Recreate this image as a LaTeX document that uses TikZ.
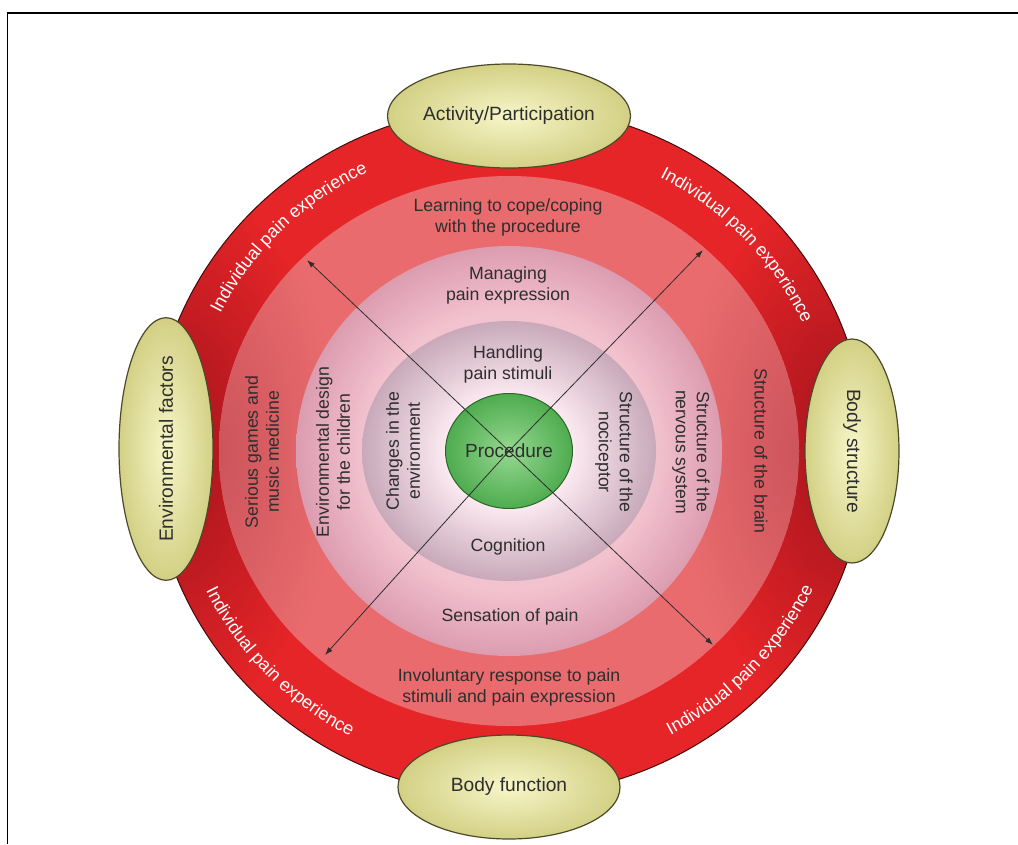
\documentclass[tikz,border=0pt]{standalone}
\usepackage{fontspec}
\setmainfont{Liberation Sans}
\usepackage{xcolor}
\usetikzlibrary{shapes.geometric, arrows.meta, decorations.text, calc}

\definecolor{ringbright}{HTML}{E62528}
\definecolor{ringdark}{HTML}{A0131C}
\definecolor{ringedge}{HTML}{3E0C0C}
\definecolor{midbright}{HTML}{E96B6D}
\definecolor{middark}{HTML}{CC545B}
\definecolor{pinkinner}{HTML}{F2C2CF}
\definecolor{pinkouter}{HTML}{DC9CB0}
\definecolor{coreinner}{HTML}{FBE9F0}
\definecolor{coreouter}{HTML}{C8A9B9}
\definecolor{greeninner}{HTML}{96D891}
\definecolor{greenouter}{HTML}{4FAC4F}
\definecolor{greenedge}{HTML}{2D662D}
\definecolor{pilllight}{HTML}{F7F6C8}
\definecolor{pilldark}{HTML}{D3D085}
\definecolor{pilledge}{HTML}{4A4A2A}
\definecolor{labeltext}{HTML}{2E2E2E}

\pgfdeclareradialshading{pinkring}{\pgfpoint{0bp}{0bp}}{color(0bp)=(pinkinner); color(17bp)=(pinkinner); color(25bp)=(pinkouter); color(50bp)=(pinkouter)}
\pgfdeclareradialshading{corering}{\pgfpoint{0bp}{0bp}}{color(0bp)=(coreinner); color(11bp)=(coreinner); color(25bp)=(coreouter); color(50bp)=(coreouter)}

\begin{document}
\begin{tikzpicture}[x=1pt, y=1pt,
        pill/.style={ellipse, draw=pilledge, line width=1.2pt, inner color=pilllight, outer color=pilldark,
            inner sep=0pt, text=labeltext, font=\fontsize{19.2}{22}\selectfont},
        ringlabel/.style={inner sep=0pt, align=center, text=labeltext, font=\fontsize{17.7}{21}\selectfont},
        pointer/.style={draw=labeltext, line width=0.8pt, -{Latex[length=8pt, width=5.5pt]}},
        painarc/.style={decorate, decoration={text along path, text align=center, text color=white,
            text={|\fontsize{18}{18}\selectfont|Individual pain experience}}}]
        \useasboundingbox (0, 0) rectangle (1018, -844);
        \draw[line width=2.5pt] (7, -13) -- (1018, -13);
        \draw[line width=1.5pt] (7.5, -13) -- (7.5, -844);

        \coordinate (centre) at (509, -451);
        \begin{scope}
            \clip (centre) ellipse [x radius=357, y radius=345];
            \fill[ringbright] (centre) ellipse [x radius=357, y radius=345];
            \shade[inner color=ringdark, outer color=ringbright] (166, -451) ellipse [x radius=170, y radius=280];
            \shade[inner color=ringdark, outer color=ringbright] (852, -451) ellipse [x radius=170, y radius=280];
        \end{scope}
        \draw[ringedge, line width=1pt] (centre) ellipse [x radius=357, y radius=345];
        \begin{scope}
            \clip (centre) ellipse [x radius=290, y radius=275];
            \fill[midbright] (centre) ellipse [x radius=290, y radius=275];
            \shade[inner color=middark, outer color=midbright] (219, -451) ellipse [x radius=120, y radius=260];
            \shade[inner color=middark, outer color=midbright] (799, -451) ellipse [x radius=120, y radius=260];
        \end{scope}
        \shade[shading=pinkring] (centre) ellipse [x radius=213, y radius=205];
        \shade[shading=corering] (centre) ellipse [x radius=147, y radius=130];

        \path[painarc] ($(centre) + (165:322 and 310)$) arc [start angle=165, end angle=105, x radius=322, y radius=310];
        \path[painarc] ($(centre) + (73:322 and 310)$) arc [start angle=73, end angle=13, x radius=322, y radius=310];
        \path[painarc] ($(centre) + (193:336 and 324)$) arc [start angle=193, end angle=254, x radius=336, y radius=324];
        \path[painarc] ($(centre) + (287:336 and 324)$) arc [start angle=287, end angle=347, x radius=336, y radius=324];

        \node[ringlabel] (coping)      at (508, -217) {Learning to cope/coping\\with the procedure};
        \node[ringlabel] (involuntary) at (509, -687) {Involuntary response to pain\\stimuli and pain expression};
        \node[ringlabel, rotate=90]  (games)  at (262, -452) {Serious games and\\music medicine};
        \node[ringlabel, rotate=-90] (brain)  at (761, -451) {Structure of the brain};
        \node[ringlabel] (managing)    at (508, -285) {Managing\\pain expression};
        \node[ringlabel, rotate=90]  (design) at (333, -452) {Environmental design\\for the children};
        \node[ringlabel, rotate=-90] (nerves) at (691, -452) {Structure of the\\nervous system};
        \node[ringlabel] (sensation)   at (510, -617) {Sensation of pain};
        \node[ringlabel] (handling)    at (508, -364) {Handling\\pain stimuli};
        \node[ringlabel] (cognition)   at (508, -547) {Cognition};
        \node[ringlabel, rotate=90]  (changes)    at (403, -451) {Changes in the\\environment};
        \node[ringlabel, rotate=-90] (nociceptor) at (614, -452) {Structure of the\\nociceptor};

        \node[ellipse, minimum width=127, minimum height=115, inner color=greeninner, outer color=greenouter,
            draw=greenedge, line width=1pt] (proc) at (509, -451) {};
        \coordinate (tip-nw) at (307, -260);
        \coordinate (tip-ne) at (703, -250);
        \coordinate (tip-sw) at (325, -655);
        \coordinate (tip-se) at (713, -645);
        \draw[pointer] (proc.center) -- (tip-nw);
        \draw[pointer] (proc.center) -- (tip-ne);
        \draw[pointer] (proc.center) -- (tip-sw);
        \draw[pointer] (proc.center) -- (tip-se);
        \node[text=labeltext, font=\fontsize{19}{22}\selectfont] (proc-label) at (proc.center) {Procedure};

        \node[pill, minimum width=222, minimum height=104] (activity) at (509, -116) {Activity/Participation};
        \node[pill, minimum width=222, minimum height=104] (function) at (509, -787) {Body function};
        \node[pill, rotate=90, minimum width=224, minimum height=94]  (environment) at (166, -449) {Environmental factors};
        \node[pill, rotate=-90, minimum width=224, minimum height=94] (structure)   at (852, -451) {Body structure};
    \end{tikzpicture}
\end{document}
